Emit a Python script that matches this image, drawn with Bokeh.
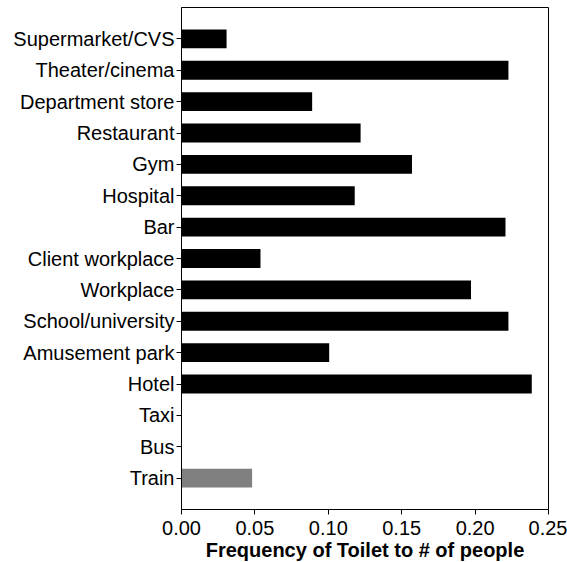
from bokeh.plotting import figure
from bokeh.models import FactorRange, Range1d, FixedTicker, NumeralTickFormatter, ColumnDataSource
from bokeh.embed import file_html
from bokeh.resources import INLINE

categories = ["Supermarket/CVS", "Theater/cinema", "Department store", "Restaurant", "Gym",
              "Hospital", "Bar", "Client workplace", "Workplace", "School/university",
              "Amusement park", "Hotel", "Taxi", "Bus", "Train"]
frequency = [0.0307, 0.2227, 0.0890, 0.1220, 0.1570, 0.1180, 0.2207, 0.0538, 0.1972,
             0.2227, 0.1006, 0.2386, 0.0, 0.0, 0.0481]
highlight = ["Train"]
x_ticks = [0.0, 0.05, 0.10, 0.15, 0.20, 0.25]
x_label = "Frequency of Toilet to # of people"

colors = ["#808080" if c in highlight else "black" for c in categories]
src = ColumnDataSource(dict(cat=categories, val=frequency, color=colors))

FONT = "Liberation Sans"
FS = "20px"

p = figure(frame_width=367, frame_height=502, output_backend="svg", toolbar_location=None,
           y_range=FactorRange(factors=list(reversed(categories)), range_padding=0.5,
                               range_padding_units="absolute"),
           x_range=Range1d(0, 0.25),
           min_border_left=181, min_border_right=19, min_border_top=7, min_border_bottom=0)

p.hbar(y="cat", right="val", left=0, height=0.6, color="color", line_color=None, source=src)

p.xgrid.visible = False
p.ygrid.visible = False
p.outline_line_color = "black"
p.outline_line_alpha = 1
p.outline_line_width = 1
p.background_fill_color = "white"
p.border_fill_color = "white"

for ax in (p.xaxis[0], p.yaxis[0]):
    ax.axis_line_color = "black"
    ax.major_tick_line_color = "black"
    ax.major_tick_out = 5
    ax.major_tick_in = 0
    ax.minor_tick_line_color = None
    ax.major_label_text_font = FONT
    ax.major_label_text_font_size = FS
    ax.major_label_text_color = "black"
    ax.major_label_standoff = 2

p.xaxis[0].major_label_standoff = 6
p.xaxis.ticker = FixedTicker(ticks=x_ticks)
p.xaxis.formatter = NumeralTickFormatter(format="0.00")
p.xaxis.axis_label = x_label
p.xaxis.axis_label_text_font = FONT
p.xaxis.axis_label_text_font_size = FS
p.xaxis.axis_label_text_font_style = "bold"
p.xaxis.axis_label_text_color = "black"
p.xaxis.axis_label_standoff = 1

open("out.html", "w").write(file_html(p, INLINE))
